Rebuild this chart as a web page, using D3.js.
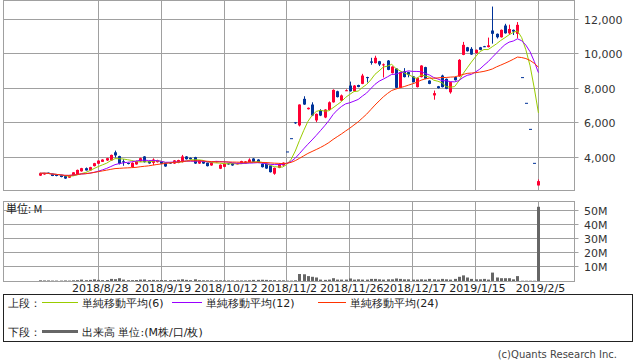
<!DOCTYPE html>
<html><head><meta charset="utf-8">
<script src="https://cdn.jsdelivr.net/npm/d3@7"></script>
<style>
html,body{margin:0;padding:0;background:#fff;}
svg{display:block;}
text{font-family:"DejaVu Sans",sans-serif;}
.jp{font-family:"Noto Sans CJK JP",sans-serif;}
</style></head>
<body><svg id="c" width="638" height="362"></svg>
<script>
// ---- data ----
const dates = ["2018/8/8","2018/8/9","2018/8/10","2018/8/13","2018/8/14","2018/8/15","2018/8/16","2018/8/17","2018/8/20","2018/8/21","2018/8/22","2018/8/23","2018/8/24","2018/8/27",
"2018/8/28","2018/8/29","2018/8/30","2018/8/31","2018/9/3","2018/9/4","2018/9/5","2018/9/6","2018/9/7","2018/9/10","2018/9/11","2018/9/12","2018/9/13","2018/9/14","2018/9/18",
"2018/9/19","2018/9/20","2018/9/21","2018/9/25","2018/9/26","2018/9/27","2018/9/28","2018/10/1","2018/10/2","2018/10/3","2018/10/4","2018/10/5","2018/10/9","2018/10/10","2018/10/11",
"2018/10/12","2018/10/15","2018/10/16","2018/10/17","2018/10/18","2018/10/19","2018/10/22","2018/10/23","2018/10/24","2018/10/25","2018/10/26","2018/10/29","2018/10/30","2018/10/31","2018/11/1",
"2018/11/2","2018/11/5","2018/11/6","2018/11/7","2018/11/8","2018/11/9","2018/11/12","2018/11/13","2018/11/14","2018/11/15","2018/11/16","2018/11/19","2018/11/20","2018/11/21","2018/11/22",
"2018/11/26","2018/11/27","2018/11/28","2018/11/29","2018/11/30","2018/12/3","2018/12/4","2018/12/5","2018/12/6","2018/12/7","2018/12/10","2018/12/11","2018/12/12","2018/12/13","2018/12/14",
"2018/12/17","2018/12/18","2018/12/19","2018/12/20","2018/12/21","2018/12/25","2018/12/26","2018/12/27","2018/12/28","2019/1/4","2019/1/7","2019/1/8","2019/1/9","2019/1/10","2019/1/11",
"2019/1/15","2019/1/16","2019/1/17","2019/1/18","2019/1/21","2019/1/22","2019/1/23","2019/1/24","2019/1/25","2019/1/28","2019/1/29","2019/1/30","2019/1/31","2019/2/1","2019/2/4",
"2019/2/5"];
const open  = [2950,3020,3120,3060,3000,2970,2920,2830,2960,3020,3200,3380,3250,3500,
3640,3750,3830,3830,4300,4080,3780,3680,3450,3600,3770,4060,3790,3690,3730,
3770,3670,3710,3650,3690,3730,4060,3980,4020,3650,3790,3690,3540,3740,3350,
3460,3660,3660,3620,3640,3650,3730,3940,3880,3640,3640,3540,3060,3400,3540,
4350,5120,6040,5860,7400,6800,7070,6150,6750,6320,6750,7200,7840,7300,7870,
8170,7840,8200,8270,8660,9570,9470,9580,9380,9620,8890,9160,8040,8990,8950,
8700,8080,8660,9240,8460,7600,8130,8750,8560,7780,8660,8700,9950,10390,10300,
10050,10390,10450,10400,11360,11170,10970,11650,11200,11400,11170,8660,7170,5660,3690,
2380];
const high  = [3120,3110,3130,3070,3010,2980,2930,2960,3150,3300,3400,3420,3460,3690,
3840,3900,3980,4170,4400,4100,3900,3700,3720,3820,3990,4080,3810,3950,3870,
3790,3690,3730,3850,3870,4150,4080,4000,4040,3850,3810,3710,3730,3800,3600,
3660,3680,3680,3680,3810,3790,3950,3960,3900,3660,3660,3560,3420,3660,3720,
4350,5120,6040,7080,7550,6900,7200,6550,6800,6800,7250,7950,7870,7650,7950,
8400,8200,8220,8850,8680,9780,9900,9600,9450,9650,9290,9180,8980,9180,8970,
8720,8640,9350,9260,8480,7880,8150,8800,8580,8390,8680,9700,10700,10410,10400,
10260,10410,10470,10950,12750,11190,11420,11750,11700,11420,11850,8660,7170,5660,3690,
2730];
const low   = [2930,3000,3050,2920,2910,2850,2760,2820,2950,3000,3180,3240,3240,3480,
3620,3740,3800,3820,4000,3600,3520,3600,3430,3580,3750,3710,3640,3560,3710,
3620,3460,3630,3630,3670,3710,3880,3880,3630,3630,3630,3480,3520,3720,3330,
3440,3580,3520,3600,3620,3630,3710,3730,3690,3420,3340,3130,3000,3380,3520,
4350,5120,5950,5800,7050,6780,6400,6050,6400,6280,6720,7180,7480,7280,7850,
7820,7820,8070,8250,8350,9380,9450,9300,8640,9060,8870,8020,8020,8640,8650,
8350,8060,8640,8540,8250,7350,8000,8060,7960,7700,8460,8680,9930,10140,9950,
10030,10220,10400,10380,10600,10900,10950,11180,11100,11100,10900,8660,7170,5660,3690,
2380];
const close = [3080,3100,3060,2930,2930,2870,2780,2950,3140,3280,3380,3250,3440,3670,
3820,3880,3960,4150,4120,3640,3720,3640,3690,3790,3960,3730,3660,3880,3850,
3640,3480,3650,3830,3850,4060,3900,3900,3650,3830,3650,3500,3710,3780,3580,
3640,3600,3540,3660,3790,3770,3880,3750,3710,3440,3360,3150,3400,3640,3700,
4350,5120,6040,7070,7070,6880,6435,6530,6430,6780,7200,7920,7500,7600,7900,
7840,8170,8090,8750,8640,9490,9780,9390,9400,9080,9270,8040,8960,8660,8800,
8370,8620,9330,8560,8270,7730,8020,8080,7980,8370,8480,9660,10530,10160,9970,
10240,10240,10420,10500,11170,10970,11400,11200,11450,11300,11690,8660,7170,5660,3690,
2630];
const volume = [0.5,0.4,0.4,0.3,0.3,0.3,0.4,0.3,0.5,0.6,1.0,0.6,0.8,1.2,
0.8,0.6,0.7,1.5,1.3,2.0,1.0,0.6,0.6,0.7,1.0,1.1,0.7,0.8,0.6,
0.7,0.6,0.6,0.7,0.9,1.2,0.8,0.6,1.2,0.6,0.5,0.5,0.5,0.5,0.5,
0.4,0.4,0.4,0.4,0.4,0.4,0.5,0.8,0.8,0.9,0.8,0.6,0.6,0.5,0.5,
0.3,0.3,0.5,5.0,4.8,3.5,3.0,2.5,1.0,0.8,1.0,2.0,1.0,1.0,1.0,
1.8,1.0,1.2,1.0,1.0,1.5,1.5,1.2,1.0,1.2,1.2,1.8,1.5,1.2,1.2,
1.0,1.0,1.2,1.0,1.5,1.2,1.0,1.5,1.2,1.0,1.5,3.0,4.0,2.5,1.5,
1.2,1.2,1.5,1.0,6.0,2.5,2.0,2.0,2.0,1.2,3.5,0.2,0.2,0.2,0.2,
53];
const firstIndex = -14; // index of first candle relative to 2018/8/28
const xTickLabels = ["2018/8/28","2018/9/19","2018/10/12","2018/11/2","2018/11/26","2018/12/17","2019/1/15","2019/2/5"];
const priceTicks = [4000,6000,8000,10000,12000];
const volumeTicks = [10,20,30,40,50];
const maPeriods = [6,12,24];
const maColors = ["#99cc00","#9900ff","#ff3300"];
const legendTexts = ["単純移動平均(6)","単純移動平均(12)","単純移動平均(24)"];

// ---- scales ----
const svg = d3.select("#c");
const L = 3.5, R = 574.5;
const idx = d => dates.indexOf(d) + firstIndex;
const x = d3.scaleLinear().domain([-22.6, 113.6]).range([L, R]);
const yP = d3.scaleLinear().domain([2087, 13101]).range([190.5, 0.5]);
const yV = d3.scaleLinear().domain([0, 57.14]).range([281, 201]);
const gridC = "#a0a0a0";
const snap = v => Math.round(v - 0.5) + 0.5;

function panel(top, bottom, yScale, ticks, fmt) {
  const g = svg.append("g");
  ticks.forEach(t => {
    const yy = snap(yScale(t));
    g.append("line").attr("x1", L).attr("x2", R + 4).attr("y1", yy).attr("y2", yy).attr("stroke", gridC).attr("stroke-width", 1);
    g.append("text").attr("x", 584).attr("y", yy + 4).attr("font-size", 11).attr("fill", "#333").text(fmt(t));
  });
  xTickLabels.forEach(lab => {
    const xx = snap(x(idx(lab)));
    g.append("line").attr("x1", xx).attr("x2", xx).attr("y1", top).attr("y2", bottom).attr("stroke", gridC).attr("stroke-width", 1);
  });
  g.append("rect").attr("x", L).attr("y", top).attr("width", R - L).attr("height", bottom - top)
    .attr("fill", "none").attr("stroke", gridC).attr("stroke-width", 1);
}
panel(0.5, 190.5, yP, priceTicks, d3.format(","));
panel(201.5, 281.5, yV, volumeTicks, v => v + "M");

svg.append("text").attr("class", "jp").attr("x", 6).attr("y", 213).attr("font-size", 11).attr("fill", "#222").text("単位: M");

// candles
const data = dates.map((d, k) => ({i: k + firstIndex, o: open[k], h: high[k], l: low[k], c: close[k], v: volume[k]}));
const up = "#ff0033", down = "#003399";
const cg = svg.append("g");
data.forEach(d => {
  const xc = Math.round(x(d.i)) + 0.5;
  const col = d.c > d.o ? up : down;
  cg.append("line").attr("x1", xc).attr("x2", xc).attr("y1", yP(d.h)).attr("y2", yP(d.l)).attr("stroke", col).attr("stroke-width", 1);
  const t = yP(Math.max(d.o, d.c)), b = yP(Math.min(d.o, d.c));
  cg.append("rect").attr("x", xc - 1.5).attr("y", t).attr("width", 3).attr("height", Math.max(1, b - t)).attr("fill", col);
});

// moving averages
maPeriods.forEach((p, m) => {
  const pts = close.map((c, k) => {
    const s = close.slice(Math.max(0, k - p + 1), k + 1);
    return [x(k + firstIndex), yP(d3.mean(s))];
  });
  svg.append("path").attr("d", d3.line()(pts)).attr("fill", "none").attr("stroke", maColors[m]).attr("stroke-width", 1);
});

// volume bars
svg.append("g").selectAll("rect").data(data).join("rect")
  .attr("x", d => Math.round(x(d.i)) - 1).attr("width", 3)
  .attr("y", d => yV(d.v)).attr("height", d => yV(0) - yV(d.v)).attr("fill", "#666");

// x labels
xTickLabels.forEach(lab => {
  svg.append("text").attr("x", x(idx(lab)) + 2).attr("y", 292).attr("text-anchor", "middle")
    .attr("font-size", 11).attr("fill", "#222").text(lab);
});

// legend
svg.append("rect").attr("x", 3.5).attr("y", 294.5).attr("width", 629).attr("height", 47).attr("fill", "none").attr("stroke", "#222");
const lg = svg.append("g").attr("class", "jp").attr("font-size", 11).attr("fill", "#222");
lg.append("text").attr("x", 8).attr("y", 307).text("上段：");
const legX = [[42, 78, 82], [172, 202, 206], [318, 346, 350]];
legendTexts.forEach((t, m) => {
  lg.append("line").attr("x1", legX[m][0]).attr("x2", legX[m][1]).attr("y1", 302.5).attr("y2", 302.5).attr("stroke", maColors[m]);
  lg.append("text").attr("x", legX[m][2]).attr("y", 307).text(t);
});
lg.append("text").attr("x", 8).attr("y", 336).text("下段：");
lg.append("line").attr("x1", 42).attr("x2", 78).attr("y1", 331.5).attr("y2", 331.5).attr("stroke", "#666").attr("stroke-width", 3);
lg.append("text").attr("x", 82).attr("y", 336).text("出来高 単位:(M株/口/枚)");

svg.append("text").attr("x", 617).attr("y", 358).attr("text-anchor", "end").attr("font-size", 10).attr("fill", "#444").text("(c)Quants Research Inc.");
</script></body></html>
